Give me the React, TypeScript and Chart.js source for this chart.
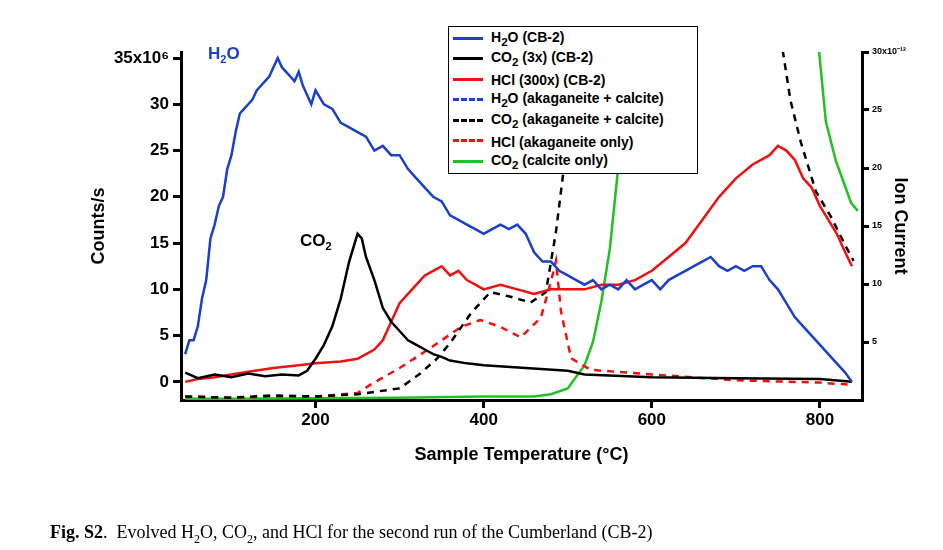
import React, { useEffect, useRef } from "react";
import { Chart, registerables } from "chart.js";
Chart.register(...registerables);

const h2oT = [45,50,55,60,65,70,75,80,85,90,95,100,105,110,115,120,125,130,135,140,145,150,155,160,165,170,175,180,185,190,195,200,210,220,230,240,250,260,270,280,290,300,310,320,330,340,350,360,370,380,390,400,410,420,430,440,450,460,470,480,490,500,510,520,530,540,550,560,570,580,590,600,610,620,630,640,650,660,670,680,690,700,710,720,730,740,750,760,770,780,790,800,810,820,830,838];
const h2oV = [3,4.5,4.5,6,9,11,15.5,17,19,20,23,24.5,27,29,29.5,30,30.5,31.5,32,32.5,33,34,35,34,33.5,33,32.5,33.5,32,31,30,31.5,30,29.5,28,27.5,27,26.5,25,25.5,24.5,24.5,23,22,21,20,19.5,18,17.5,17,16.5,16,16.5,17,16.5,17,16,14,13,13,12,11.5,11,10.5,11,10,10.5,10,11,10,10.5,11,10,11,11.5,12,12.5,13,13.5,12.5,12,12.5,12,12.5,12.5,11,10,8.5,7,6,5,4,3,2,1,0];
const co2T = [45,60,80,100,120,140,160,180,190,200,210,220,230,240,250,255,260,270,280,290,300,310,320,330,340,350,360,380,400,450,500,520,600,700,800,838];
const co2V = [1,0.4,0.8,0.5,0.9,0.6,0.8,0.7,1.2,2.5,4,6,9,13,16,15.5,13.5,11,8,6.5,5.5,4.5,4,3.5,3,2.7,2.3,2,1.8,1.5,1.2,0.8,0.5,0.4,0.3,0];
const hclT = [45,60,80,100,120,150,180,200,230,250,270,280,290,300,310,320,330,340,350,360,370,380,390,400,420,440,460,480,500,520,540,560,580,600,620,640,660,680,700,720,740,750,760,770,780,790,800,810,820,830,838];
const hclV = [0,0.3,0.5,0.8,1.1,1.5,1.8,2,2.2,2.5,3.5,4.5,6.5,8.5,9.5,10.5,11.5,12,12.5,11.5,12,11,10.5,10,10.5,10,9.5,10,10,10,10.5,10.5,11,12,13.5,15,17.5,20,22,23.5,24.5,25.5,25,24,22,21,19,17.5,16,14,12.5];
const co2AkT = [45,100,150,200,250,300,325,345,361,385,408,432,456,474,486,498,510,516,750,756,765,777,795,813,831,840];
const co2AkV = [0.3,0.2,0.4,0.3,0.5,1,2.3,3.6,5,7.5,9.3,8.9,8.4,9.3,14.5,21.5,29.3,35,35,30,25.8,22.3,18,15.8,13.2,12];
const hclAkT = [45,100,150,200,250,265,301,337,373,396,420,444,468,480,486,492,504,527,600,700,800,838];
const hclAkV = [0.3,0.2,0.3,0.3,0.6,1.3,2.8,4.5,6.3,6.9,6.3,5.4,7.1,10.2,12,7.6,3.6,2.6,2.2,1.7,1.5,1.3];
const calT = [45,100,200,300,400,460,480,500,520,530,540,550,560,570,578,792,799,807,819,837,845];
const calV = [0.1,0.1,0.15,0.2,0.3,0.3,0.5,1,3,5,8.5,13,20,27,32,35,30,24,20.6,17,16.3];
const leftTicks = [0,5,10,15,20,25,30,35];
const rightTicks = [5,10,15,20,25,30];
const xTicks = [200,400,600,800];

const pts = (t: number[], v: number[]) => t.map((x, i) => ({ x, y: v[i] }));

export default function App() {
  const ref = useRef<HTMLCanvasElement>(null);
  useEffect(() => {
    const ds = (label: string, data: any, color: string, dashed: boolean, axis: string) => ({
      label, data, borderColor: color, borderWidth: 2.5, pointRadius: 0, fill: false,
      borderDash: dashed ? [7, 6] : [], yAxisID: axis, tension: 0,
    });
    const tickFont = { family: "Liberation Sans, Arial", size: 17, weight: "bold" as const };
    const c = new Chart(ref.current!, {
      type: "line",
      data: {
        datasets: [
          ds("H2O (CB-2)", pts(h2oT, h2oV), "#1a3fc8", false, "y"),
          ds("CO2 (3x) (CB-2)", pts(co2T, co2V), "#000", false, "y"),
          ds("HCl (300x) (CB-2)", pts(hclT, hclV), "#f01010", false, "y"),
          ds("H2O (akaganeite + calcite)", [], "#1a3fc8", true, "y2"),
          ds("CO2 (akaganeite + calcite)", pts(co2AkT, co2AkV), "#000", true, "y2"),
          ds("HCl (akaganeite only)", pts(hclAkT, hclAkV), "#f01010", true, "y2"),
          ds("CO2 (calcite only)", pts(calT, calV), "#22c022", false, "y2"),
        ] as any,
      },
      options: {
        animation: false, responsive: false, maintainAspectRatio: false,
        layout: { padding: { top: 52, bottom: 78, left: 88, right: 32 } },
        plugins: { legend: { display: false }, tooltip: { enabled: false } },
        scales: {
          x: {
            type: "linear", min: 40, max: 850,
            afterBuildTicks: (s: any) => { s.ticks = xTicks.map((v) => ({ value: v })); },
            afterFit: (s: any) => { s.height = 72; },
            grid: { drawOnChartArea: false, color: "#000", lineWidth: 3, tickLength: 8 },
            border: { color: "#000", width: 3 },
            ticks: { color: "#000", font: tickFont, padding: 2 },
            title: { display: true, text: "Sample Temperature (\u00B0C)", color: "#000", font: { family: "Liberation Sans, Arial", size: 18, weight: "bold" }, padding: { top: 0, bottom: 6 } },
          },
          y: {
            type: "linear", position: "left", min: -1.96, max: 35.65,
            afterBuildTicks: (s: any) => { s.ticks = leftTicks.map((v) => ({ value: v })); },
            afterFit: (s: any) => { s.width = 93; },
            grid: { drawOnChartArea: false, color: "#000", lineWidth: 3, tickLength: 8 },
            border: { color: "#000", width: 3 },
            ticks: { color: "#000", font: tickFont, padding: 4, callback: (v: any) => (v === 35 ? "35x10\u2076" : String(v)) },
            title: { display: true, text: "Counts/s", color: "#000", font: { family: "Liberation Sans, Arial", size: 18, weight: "bold" }, padding: { top: 0, bottom: 0 } },
          },
          y2: {
            type: "linear", position: "right", min: 0, max: 30,
            afterBuildTicks: (s: any) => { s.ticks = rightTicks.map((v) => ({ value: v })); },
            afterFit: (s: any) => { s.width = 49; },
            grid: { drawOnChartArea: false, color: "#000", lineWidth: 3, tickLength: 7 },
            border: { color: "#000", width: 3 },
            ticks: { color: "#000", font: { family: "Liberation Sans, Arial", size: 9, weight: "bold" }, padding: 3, callback: (v: any) => (v === 30 ? "30x10\u207B\u00B9\u00B2" : String(v)) },
            title: { display: true, text: "Ion Current", color: "#000", font: { family: "Liberation Sans, Arial", size: 18, weight: "bold" }, padding: { top: 0, bottom: 0 } },
          },
        },
      },
    });
    return () => c.destroy();
  }, []);

  const f = "'Liberation Sans', Arial, sans-serif";
  const legend: [string, React.ReactNode, boolean][] = [
    ["#1a3fc8", <>H<sub>2</sub>O (CB-2)</>, false],
    ["#000", <>CO<sub>2</sub> (3x) (CB-2)</>, false],
    ["#f01010", <>HCl (300x) (CB-2)</>, false],
    ["#1a3fc8", <>H<sub>2</sub>O (akaganeite + calcite)</>, true],
    ["#000", <>CO<sub>2</sub> (akaganeite + calcite)</>, true],
    ["#f01010", <>HCl (akaganeite only)</>, true],
    ["#22c022", <>CO<sub>2</sub> (calcite only)</>, false],
  ];
  return (
    <div style={{ position: "fixed", left: 0, top: 0, width: 943, height: 550, background: "#fff" }}>
      <canvas ref={ref} width={943} height={550} style={{ position: "absolute", left: 0, top: 0 }} />
      <div style={{ position: "absolute", left: 208, top: 44, color: "#1a3fc8", font: `bold 17px ${f}` }}>H<sub style={{ fontSize: 11 }}>2</sub>O</div>
      <div style={{ position: "absolute", left: 300, top: 231, color: "#000", font: `bold 17px ${f}` }}>CO<sub style={{ fontSize: 11 }}>2</sub></div>
      <div style={{ position: "absolute", left: 448, top: 26, width: 250, height: 148, background: "#fff", border: "1px solid #000", boxSizing: "border-box", padding: "2px 0 0 4px" }}>
        {legend.map(([c, t, d], i) => (
          <div key={i} style={{ display: "flex", alignItems: "center", height: 20.5, font: `bold 14px ${f}`, color: "#000", lineHeight: "14px" }}>
            <span style={{ width: 30, height: 0, borderTop: `3px ${d ? "dashed" : "solid"} ${c}`, marginRight: 8, marginTop: -2 }} />
            <span style={{ whiteSpace: "nowrap" }}>{t}</span>
          </div>
        ))}
      </div>
      <div style={{ position: "absolute", left: 50, top: 522, font: "18px 'Liberation Serif', 'Times New Roman', serif", lineHeight: "20px", color: "#000", whiteSpace: "nowrap" }}>
        <b>Fig. S2</b>.&nbsp; Evolved H<sub style={{ fontSize: 12, lineHeight: 0 }}>2</sub>O, CO<sub style={{ fontSize: 12, lineHeight: 0 }}>2</sub>, and HCl for the second run of the Cumberland (CB-2)
      </div>
    </div>
  );
}
